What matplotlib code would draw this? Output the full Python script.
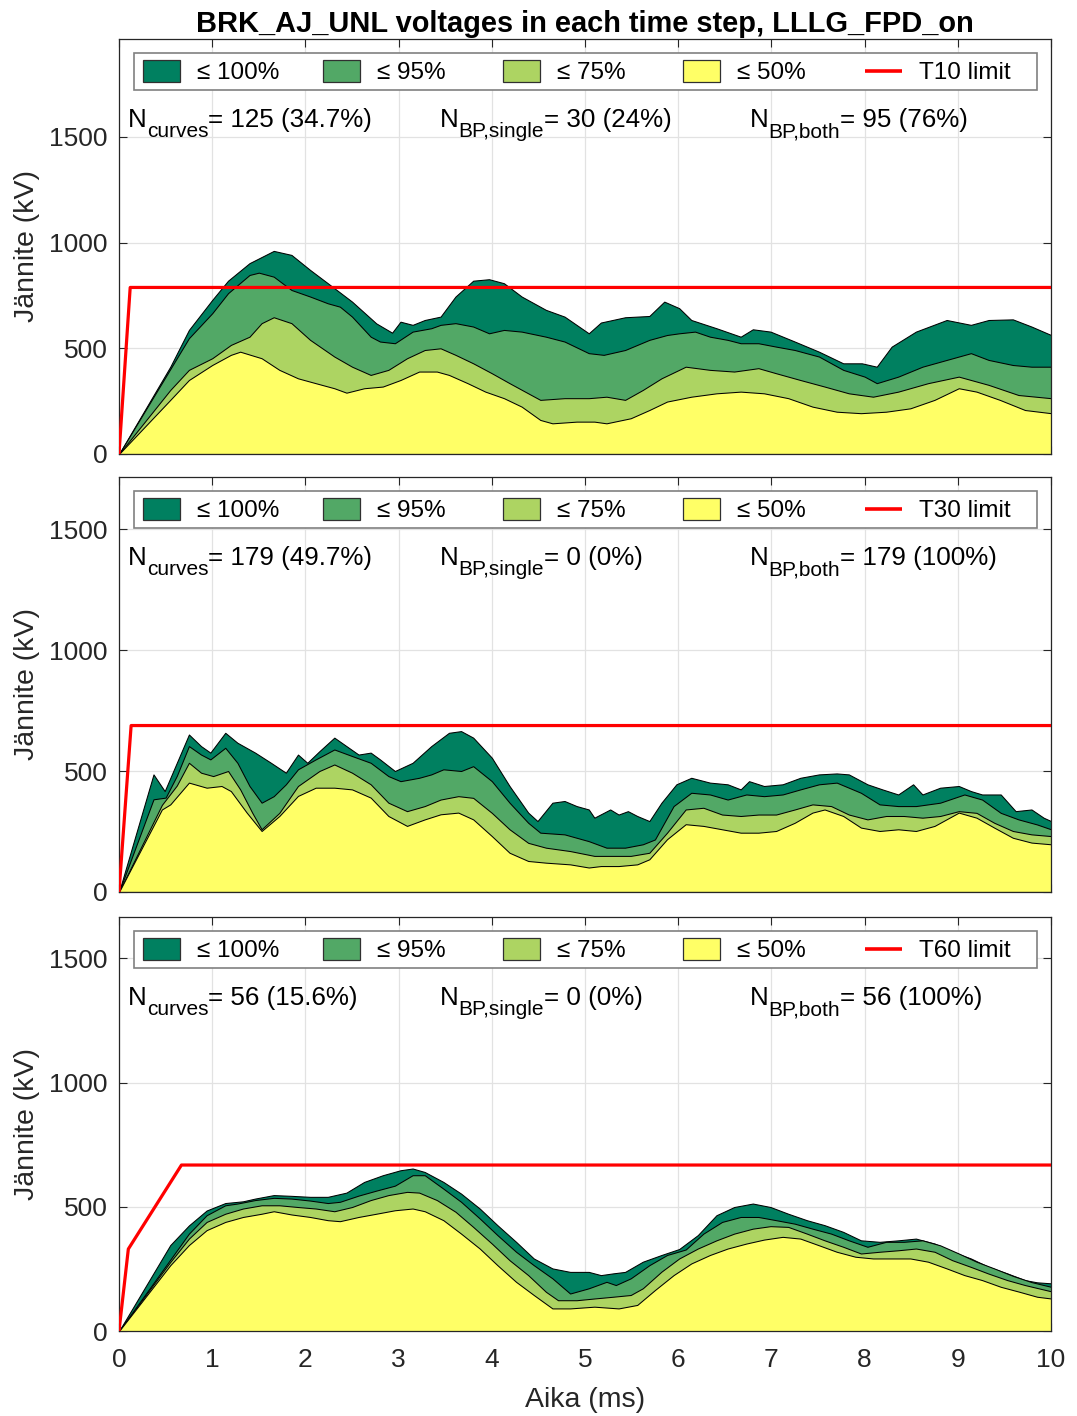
import matplotlib
matplotlib.use("Agg")
import matplotlib.pyplot as plt
from matplotlib.patches import Rectangle
from matplotlib.transforms import offset_copy

plt.rcParams['font.family'] = ['Liberation Sans', 'DejaVu Sans']

# ---------------------------------------------------------------- data
LEVEL_LABELS = ['\u2264 100%', '\u2264 95%', '\u2264 75%', '\u2264 50%']
LEVEL_COLORS = ['#008060', '#52A866', '#ADD462', '#FFFF66']

# T10 case: envelopes of the voltage curves (kV) vs. time (ms)
T10_t100 = [0, 0.55, 0.75, 1.0, 1.17, 1.4, 1.66, 1.85, 2.05, 2.24, 2.5, 2.76, 2.93, 3.02, 3.15, 3.28, 3.45, 3.61,
            3.8, 3.97, 4.13, 4.32, 4.58, 4.78, 5.04, 5.17, 5.43, 5.69, 5.85, 6.01, 6.14, 6.41, 6.67, 6.8, 6.99, 7.25,
            7.51, 7.77, 7.97, 8.13, 8.29, 8.55, 8.88, 9.14, 9.33, 9.59, 9.79, 10]
T10_v100 = [0, 413, 587, 729, 820, 903, 961, 942, 871, 808, 721, 618, 574, 626, 611, 634, 650, 745,
            820, 827, 808, 745, 682, 650, 571, 622, 647, 653, 721, 690, 634, 595, 555, 590, 579, 532,
            484, 429, 429, 413, 508, 579, 634, 611, 634, 637, 603, 563]
T10_t95 = [0, 0.75, 1.0, 1.17, 1.4, 1.5, 1.66, 1.85, 2.05, 2.24, 2.37, 2.5, 2.7, 2.8, 2.96, 3.15, 3.35, 3.45, 3.61,
           3.8, 3.97, 4.13, 4.32, 4.58, 4.78, 5.04, 5.2, 5.43, 5.69, 5.88, 6.01, 6.18, 6.34, 6.53, 6.67, 6.86, 7.05,
           7.25, 7.51, 7.77, 8.0, 8.13, 8.36, 8.62, 8.88, 9.14, 9.33, 9.59, 9.79, 10]
T10_v95 = [0, 548, 666, 761, 847, 858, 839, 776, 745, 713, 697, 650, 555, 532, 524, 579, 595, 611, 619,
           603, 571, 587, 579, 555, 532, 477, 469, 492, 540, 563, 571, 579, 555, 540, 524, 524, 508,
           492, 461, 398, 366, 335, 366, 413, 445, 477, 445, 421, 413, 413]
T10_t75 = [0, 0.55, 0.75, 1.0, 1.2, 1.4, 1.53, 1.66, 1.85, 2.05, 2.31, 2.5, 2.7, 2.89, 3.09, 3.28, 3.45, 3.61, 3.8,
           4.0, 4.19, 4.39, 4.52, 4.78, 5.04, 5.23, 5.43, 5.62, 5.82, 6.08, 6.34, 6.6, 6.86, 7.05, 7.31, 7.57, 7.83,
           8.09, 8.36, 8.68, 9.01, 9.33, 9.65, 10]
T10_v75 = [0, 303, 398, 453, 516, 555, 619, 647, 619, 540, 461, 413, 374, 398, 453, 492, 500, 469, 429,
           382, 335, 287, 256, 264, 264, 271, 256, 303, 358, 413, 398, 390, 406, 382, 350, 319, 287,
           271, 295, 335, 366, 327, 279, 264]
T10_t50 = [0, 0.55, 0.75, 1.0, 1.2, 1.3, 1.53, 1.72, 1.92, 2.11, 2.31, 2.44, 2.63, 2.83, 3.02, 3.22, 3.41, 3.54,
           3.74, 3.93, 4.13, 4.32, 4.52, 4.65, 4.91, 5.1, 5.23, 5.49, 5.69, 5.88, 6.14, 6.41, 6.67, 6.92, 7.18,
           7.44, 7.7, 7.96, 8.23, 8.49, 8.75, 9.01, 9.2, 9.45, 9.72, 10]
T10_v50 = [0, 256, 350, 421, 469, 484, 453, 398, 358, 335, 311, 290, 311, 319, 350, 390, 390, 374,
           335, 295, 264, 224, 161, 145, 153, 153, 145, 169, 208, 248, 271, 287, 295, 287, 264,
           224, 200, 193, 200, 216, 256, 311, 295, 256, 208, 193]

# T30 case
T30_t100 = [0, 0.37, 0.49, 0.62, 0.75, 0.88, 0.98, 1.14, 1.27, 1.46, 1.63, 1.79, 1.92, 2.02, 2.15, 2.31, 2.44,
            2.57, 2.7, 2.8, 2.96, 3.15, 3.35, 3.54, 3.67, 3.8, 4.0, 4.19, 4.39, 4.49, 4.65, 4.78, 4.91, 5.04, 5.1,
            5.27, 5.36, 5.46, 5.56, 5.69, 5.82, 5.98, 6.14, 6.34, 6.53, 6.67, 6.76, 6.92, 7.12, 7.31, 7.51, 7.7,
            7.83, 8.03, 8.19, 8.36, 8.52, 8.62, 8.81, 9.01, 9.14, 9.26, 9.46, 9.62, 9.79, 9.92, 10]
T30_v100 = [0, 486, 417, 534, 651, 603, 576, 658, 617, 576, 534, 493, 568, 534, 582, 638, 603,
            568, 576, 548, 500, 534, 603, 658, 665, 638, 555, 438, 328, 293, 369, 376, 355, 341, 307,
            341, 320, 334, 314, 293, 369, 445, 472, 452, 445, 424, 458, 438, 445, 472, 486, 490,
            486, 445, 424, 403, 445, 403, 431, 438, 417, 403, 403, 334, 341, 307, 293]
T30_t95 = [0, 0.37, 0.5, 0.62, 0.75, 0.88, 0.98, 1.14, 1.27, 1.4, 1.53, 1.66, 1.79, 1.92, 2.11, 2.31, 2.5, 2.7,
           2.89, 3.02, 3.22, 3.35, 3.48, 3.67, 3.8, 4.0, 4.19, 4.39, 4.52, 4.78, 5.04, 5.23, 5.43, 5.62, 5.75,
           5.95, 6.14, 6.34, 6.53, 6.73, 6.92, 7.12, 7.31, 7.51, 7.7, 7.96, 8.16, 8.36, 8.55, 8.81, 9.07, 9.26,
           9.46, 9.65, 9.85, 10]
T30_v95 = [0, 383, 390, 480, 603, 568, 548, 596, 534, 438, 369, 396, 445, 507, 548, 589, 562, 534,
           479, 458, 472, 486, 507, 500, 520, 458, 369, 286, 245, 238, 210, 183, 183, 197, 217,
           355, 410, 403, 382, 403, 396, 403, 424, 445, 452, 410, 362, 355, 355, 369, 403, 382,
           327, 300, 279, 259]
T30_t75 = [0, 0.46, 0.62, 0.75, 0.88, 1.01, 1.17, 1.3, 1.43, 1.53, 1.72, 1.92, 2.15, 2.31, 2.5, 2.7, 2.89, 3.09,
           3.28, 3.45, 3.64, 3.8, 4.0, 4.19, 4.39, 4.58, 4.84, 5.1, 5.3, 5.49, 5.69, 5.88, 6.08, 6.27, 6.47, 6.67,
           6.86, 7.05, 7.25, 7.44, 7.64, 7.83, 8.03, 8.23, 8.42, 8.62, 8.81, 9.01, 9.2, 9.39, 9.59, 9.79, 10]
T30_v75 = [0, 360, 440, 534, 493, 479, 500, 424, 327, 259, 327, 438, 500, 527, 493, 445, 369, 334,
           355, 382, 396, 389, 327, 259, 203, 183, 169, 149, 149, 149, 162, 245, 341, 348, 320, 314,
           320, 320, 341, 362, 355, 320, 300, 314, 314, 307, 314, 334, 327, 286, 252, 238, 231]
T30_t50 = [0, 0.46, 0.55, 0.75, 0.94, 1.1, 1.2, 1.37, 1.53, 1.72, 1.92, 2.11, 2.31, 2.5, 2.7, 2.89, 3.09, 3.28,
           3.45, 3.64, 3.8, 4.0, 4.19, 4.39, 4.58, 4.84, 5.04, 5.17, 5.36, 5.56, 5.69, 5.88, 6.08, 6.27, 6.47,
           6.67, 6.86, 7.05, 7.25, 7.44, 7.57, 7.77, 7.96, 8.16, 8.36, 8.55, 8.75, 9.01, 9.2, 9.39, 9.59, 9.79, 10]
T30_v50 = [0, 341, 362, 452, 431, 438, 417, 328, 252, 314, 397, 431, 431, 424, 390, 314, 273, 300,
           321, 328, 300, 231, 162, 128, 121, 114, 101, 107, 107, 114, 135, 218, 280, 273, 259,
           245, 245, 252, 286, 328, 341, 314, 266, 252, 259, 252, 273, 328, 307, 266, 224, 204, 197]

# T60 case
T60_t100 = [0, 0.55, 0.75, 0.94, 1.14, 1.33, 1.46, 1.66, 1.85, 2.05, 2.24, 2.44, 2.63, 2.83, 3.02, 3.15, 3.28,
            3.48, 3.67, 3.87, 4.06, 4.26, 4.45, 4.65, 4.84, 5.04, 5.17, 5.3, 5.43, 5.62, 5.82, 6.01, 6.21, 6.41,
            6.6, 6.8, 6.99, 7.18, 7.38, 7.57, 7.77, 7.96, 8.16, 8.36, 8.55, 8.75, 8.94, 9.14, 9.33, 9.53, 9.72,
            9.85, 10]
T60_v100 = [0, 346, 425, 485, 515, 522, 533, 547, 544, 540, 540, 557, 600, 627, 647, 654, 640,
            600, 553, 493, 426, 359, 292, 252, 238, 238, 225, 232, 238, 279, 306, 330, 386, 466,
            499, 513, 499, 472, 446, 426, 399, 365, 359, 365, 372, 352, 319, 292, 258, 232, 205,
            196, 192]
T60_t95 = [0, 0.75, 0.94, 1.14, 1.27, 1.46, 1.66, 1.85, 2.05, 2.24, 2.37, 2.57, 2.76, 2.96, 3.15, 3.28, 3.48,
           3.67, 3.87, 4.06, 4.26, 4.45, 4.65, 4.84, 5.04, 5.23, 5.33, 5.49, 5.69, 5.88, 6.08, 6.27, 6.47, 6.67,
           6.86, 7.05, 7.25, 7.44, 7.64, 7.83, 8.03, 8.23, 8.42, 8.62, 8.81, 9.01, 9.2, 9.39, 9.59, 9.79, 10]
T60_v95 = [0, 392, 466, 506, 513, 527, 536, 533, 525, 515, 520, 545, 565, 585, 627, 627, 573,
           520, 453, 386, 319, 265, 212, 151, 172, 198, 185, 212, 265, 306, 328, 392, 439, 459,
           459, 446, 432, 412, 392, 365, 339, 359, 359, 365, 345, 312, 279, 252, 222, 197, 178]
T60_t75 = [0, 0.55, 0.75, 0.94, 1.14, 1.33, 1.53, 1.72, 1.92, 2.11, 2.31, 2.5, 2.7, 2.89, 3.09, 3.22, 3.41,
           3.61, 3.8, 4.0, 4.19, 4.39, 4.58, 4.71, 4.91, 5.1, 5.3, 5.49, 5.62, 5.82, 6.01, 6.21, 6.41, 6.6,
           6.8, 6.99, 7.18, 7.38, 7.57, 7.77, 7.96, 8.16, 8.36, 8.55, 8.75, 8.94, 9.14, 9.33, 9.53, 9.72, 10]
T60_v75 = [0, 278, 372, 439, 472, 493, 506, 506, 499, 493, 482, 499, 527, 547, 560, 557, 527,
           480, 419, 352, 285, 225, 158, 124, 124, 131, 138, 145, 172, 239, 292, 332, 365, 392,
           412, 422, 419, 392, 365, 339, 312, 319, 325, 332, 319, 285, 258, 231, 205, 185, 160]
T60_t50 = [0, 0.55, 0.75, 0.94, 1.14, 1.33, 1.53, 1.66, 1.85, 2.05, 2.24, 2.37, 2.57, 2.76, 2.96, 3.15, 3.28,
           3.48, 3.67, 3.87, 4.06, 4.26, 4.45, 4.65, 4.84, 5.1, 5.36, 5.56, 5.75, 5.95, 6.14, 6.34, 6.53, 6.73,
           6.92, 7.12, 7.31, 7.51, 7.7, 7.9, 8.09, 8.29, 8.49, 8.68, 8.88, 9.07, 9.26, 9.46, 9.66, 9.85, 10]
T60_v50 = [0, 265, 346, 406, 439, 459, 472, 482, 469, 459, 446, 442, 459, 472, 486, 493, 482,
           446, 392, 332, 265, 198, 145, 91, 91, 98, 91, 105, 165, 225, 272, 306, 332, 352,
           368, 379, 372, 345, 319, 299, 292, 292, 292, 279, 252, 225, 205, 178, 158, 138, 131]

# TRV limit envelopes
T10_limit_t = [0, 0.12, 10]
T10_limit_v = [0, 788, 788]
T30_limit_t = [0, 0.13, 10]
T30_limit_v = [0, 688, 688]
T60_limit_t = [0, 0.10, 0.67, 10]
T60_limit_v = [0, 330, 668, 668]

# Curve counts: N_curves, N_BP,single, N_BP,both
COUNT_SUBSCRIPTS = ['curves', 'BP,single', 'BP,both']
T10_counts = ['125 (34.7%)', '30 (24%)', '95 (76%)']
T30_counts = ['179 (49.7%)', '0 (0%)', '179 (100%)']
T60_counts = ['56 (15.6%)', '0 (0%)', '56 (100%)']

X_TICKS = list(range(0, 11))
Y_TICKS = [0, 500, 1000, 1500]

# ---------------------------------------------------------------- figure
AX_COLOR = '#262626'
fig = plt.figure(figsize=(10.77, 14.16), dpi=100)
renderer = fig.canvas.get_renderer()

panel_rects = [[0.1105, 0.6794, 0.8654, 0.2931],
               [0.1105, 0.3701, 0.8654, 0.2931],
               [0.1105, 0.0600, 0.8654, 0.2924]]
panel_ylims = [1964, 1716, 1666]

panels = [
    ([(T10_t100, T10_v100), (T10_t95, T10_v95), (T10_t75, T10_v75), (T10_t50, T10_v50)],
     T10_limit_t, T10_limit_v, 'T10 limit', T10_counts),
    ([(T30_t100, T30_v100), (T30_t95, T30_v95), (T30_t75, T30_v75), (T30_t50, T30_v50)],
     T30_limit_t, T30_limit_v, 'T30 limit', T30_counts),
    ([(T60_t100, T60_v100), (T60_t95, T60_v95), (T60_t75, T60_v75), (T60_t50, T60_v50)],
     T60_limit_t, T60_limit_v, 'T60 limit', T60_counts),
]


def draw_key(ax, limit_name):
    """Horizontal key box with equally spaced entries."""
    step = 0.1931
    yc = 0.923
    ytxt = 0.917
    ax.add_patch(Rectangle((0.0161, 0.877), 0.9689, 0.089, transform=ax.transAxes,
                           facecolor='white', edgecolor='#808080', linewidth=1.2, zorder=5))
    for k, (lab, col) in enumerate(zip(LEVEL_LABELS, LEVEL_COLORS)):
        ax.add_patch(Rectangle((0.0258 + k * step, yc - 0.0265), 0.0397, 0.053,
                               transform=ax.transAxes, facecolor=col, edgecolor='#303030',
                               linewidth=0.9, zorder=6))
        ax.text(0.0837 + k * step, ytxt, lab, transform=ax.transAxes, fontsize=17.5,
                ha='left', va='center', zorder=6)
    ax.plot([0.8004, 0.8401], [yc, yc], transform=ax.transAxes, color='#ff0000',
            linewidth=2.6, solid_capstyle='butt', zorder=6)
    ax.text(0.8584, ytxt, limit_name, transform=ax.transAxes, fontsize=17.5,
            ha='left', va='center', zorder=6)


def draw_count(ax, x, y, sub, value):
    """'N' with a subscript followed by '= value', laid out piece by piece."""
    pieces = [('N', 18.7, 0), (sub, 15.0, -10), ('= ' + value, 18.7, 0)]
    dx = 0.0
    for s, fs, dy in pieces:
        tr = offset_copy(ax.transAxes, fig=fig, x=dx, y=dy, units='dots')
        t = ax.text(x, y, s, transform=tr, fontsize=fs, ha='left', va='baseline',
                    color='black', zorder=6)
        dx += t.get_window_extent(renderer).width


count_x = [0.0097, 0.344, 0.677]

axes = []
for i, (series, lim_t, lim_v, lim_name, counts) in enumerate(panels):
    ax = fig.add_axes(panel_rects[i])
    axes.append(ax)
    ax.set_axisbelow(True)
    ax.grid(True, color='#e2e2e2', linewidth=0.9)

    for (t, v), col in zip(series, LEVEL_COLORS):
        ax.fill_between(t, 0, v, facecolor=col, edgecolor='black', linewidth=0.75, zorder=2)
    ax.plot(lim_t, lim_v, color='#ff0000', linewidth=2.3, zorder=3)

    ax.set_xlim(0, 10)
    ax.set_ylim(0, panel_ylims[i])
    ax.set_xticks(X_TICKS)
    ax.set_yticks(Y_TICKS)
    ax.tick_params(direction='in', top=True, right=True, length=6, width=0.8,
                   colors=AX_COLOR, labelsize=19)
    ax.tick_params(axis='y', pad=8)
    ax.tick_params(axis='x', pad=12)
    if i < 2:
        ax.tick_params(labelbottom=False)
    for sp in ax.spines.values():
        sp.set_color(AX_COLOR)
        sp.set_linewidth(0.9)

    ax.set_ylabel('J\u00e4nnite (kV)', fontsize=20.5, color=AX_COLOR)
    ax.yaxis.set_label_coords(-0.085, 0.5)

    draw_key(ax, lim_name)
    for sub, val, x in zip(COUNT_SUBSCRIPTS, counts, count_x):
        draw_count(ax, x, 0.787, sub, val)

axes[0].set_title('BRK_AJ_UNL voltages in each time step, LLLG_FPD_on',
                  fontsize=20.9, fontweight='bold', pad=5)
axes[2].set_xlabel('Aika (ms)', fontsize=20.5, color=AX_COLOR)
axes[2].xaxis.set_label_coords(0.5, -0.135)

fig.savefig('out.png', dpi=100)
